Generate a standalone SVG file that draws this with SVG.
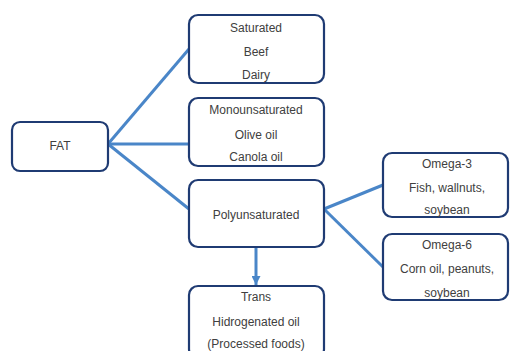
<svg xmlns="http://www.w3.org/2000/svg" width="510" height="351" viewBox="0 0 510 351">
<style>
.box{fill:#fff;stroke:#1f3b73;stroke-width:2.2}
.lbl{font-family:"Liberation Sans",Arial,sans-serif;font-size:12px;fill:#404040;text-anchor:middle}
.con{stroke:#4a86c8;stroke-width:3;fill:none}
</style>
<defs>
<marker id="arr" viewBox="0 0 10 10" refX="10" refY="5" markerWidth="3" markerHeight="3" orient="auto" markerUnits="strokeWidth">
<path d="M0,0 L10,5 L0,10 z" fill="#4a86c8"/>
</marker>
</defs>
<rect width="510" height="351" fill="#fff"/>
<g id="connectors">
<line class="con" x1="108" y1="144" x2="189" y2="49"/>
<line class="con" x1="108" y1="144" x2="189" y2="144"/>
<line class="con" x1="108" y1="144" x2="189" y2="209"/>
<line class="con" x1="324" y1="209" x2="383" y2="185"/>
<line class="con" x1="324" y1="209" x2="383" y2="267"/>
<line class="con" x1="256" y1="247" x2="256" y2="285" marker-end="url(#arr)"/>
</g>
<g id="fat">
<rect class="box" x="12" y="122" width="96" height="49" rx="8"/>
<text class="lbl" x="60" y="150">FAT</text>
</g>
<g id="saturated">
<rect class="box" x="189" y="15" width="135" height="68" rx="9"/>
<text class="lbl" x="256" y="32">Saturated</text>
<text class="lbl" x="256" y="56">Beef</text>
<text class="lbl" x="256" y="79">Dairy</text>
</g>
<g id="monounsaturated">
<rect class="box" x="189" y="98" width="135" height="68" rx="9"/>
<text class="lbl" x="256" y="114">Monounsaturated</text>
<text class="lbl" x="256" y="139">Olive oil</text>
<text class="lbl" x="256" y="161">Canola oil</text>
</g>
<g id="polyunsaturated">
<rect class="box" x="189" y="180" width="135" height="67" rx="9"/>
<text class="lbl" x="256" y="219">Polyunsaturated</text>
</g>
<g id="omega3">
<rect class="box" x="383" y="153" width="125" height="64" rx="9"/>
<text class="lbl" x="447" y="168">Omega-3</text>
<text class="lbl" x="447" y="192">Fish, wallnuts,</text>
<text class="lbl" x="447" y="214">soybean</text>
</g>
<g id="omega6">
<rect class="box" x="383" y="234" width="125" height="66" rx="9"/>
<text class="lbl" x="447" y="249">Omega-6</text>
<text class="lbl" x="447" y="273">Corn oil, peanuts,</text>
<text class="lbl" x="447" y="297">soybean</text>
</g>
<g id="trans">
<rect class="box" x="189" y="286" width="135" height="72" rx="9"/>
<text class="lbl" x="256" y="301">Trans</text>
<text class="lbl" x="256" y="326">Hidrogenated oil</text>
<text class="lbl" x="256" y="348">(Processed foods)</text>
</g>
</svg>
